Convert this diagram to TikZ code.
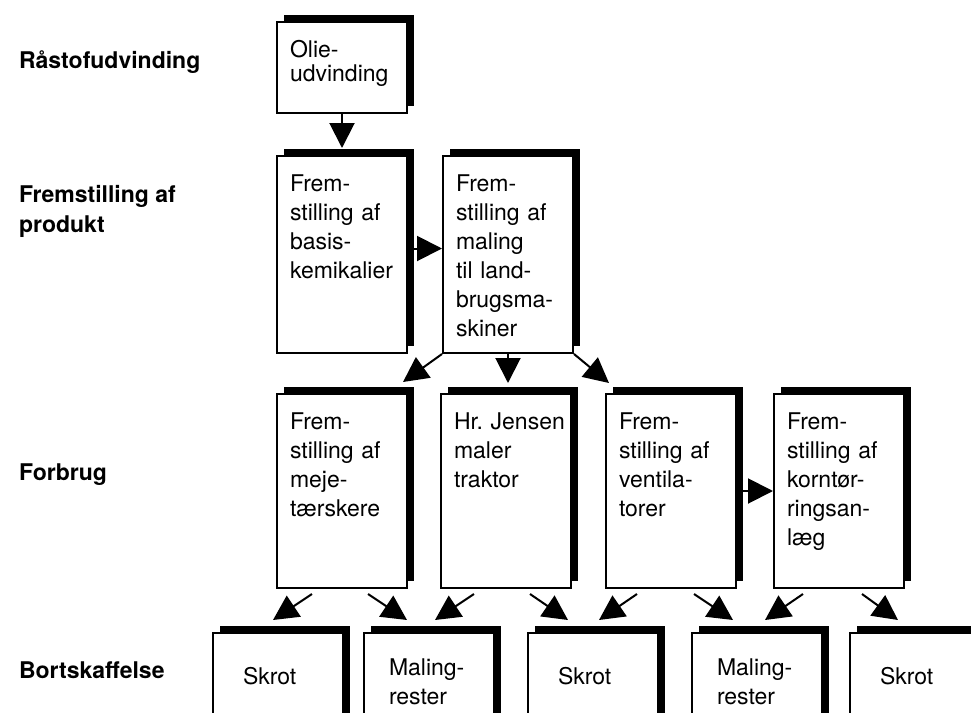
\documentclass[tikz,border=0pt]{standalone}
\usepackage{fontspec}
\setmainfont{TeX Gyre Heros}
\usetikzlibrary{arrows.meta}
\usetikzlibrary{shadows}
\hyphenpenalty=10000
\exhyphenpenalty=10000

\begin{document}
\begin{tikzpicture}[x=0.5pt, y=-0.5pt,
        boks/.style={draw, line width=1pt, fill=white, anchor=north west, align=left,
                     font=\fontsize{11.5pt}{14.5pt}\selectfont,
                     inner xsep=6.5pt, inner ysep=0pt, text width=52pt, text height=17.5pt,
                     general shadow={fill=black, shadow xshift=3.5pt, shadow yshift=3.5pt}},
        rubrik/.style={anchor=base west, align=left, font=\fontsize{11.5pt}{15pt}\selectfont\bfseries},
        pil/.style={line width=1pt, -{Triangle[length=12.5pt, width=12.5pt]}}]
                \useasboundingbox (0,0) rectangle (971,713);
                \clip (0,0) rectangle (971,713);

                \node[rubrik] (trin1) at (12,68) {Råstofudvinding};
                \node[rubrik] (trin2) at (12,232) {Fremstilling af\\produkt};
                \node[rubrik] (trin3) at (12,480) {Forbrug};
                \node[rubrik] (trin4) at (12,678) {Bortskaffelse};

                \node[boks, text depth=28pt, font=\fontsize{11.5pt}{12pt}\selectfont] (olie) at (276,21) {Olie-\\udvinding};
                \node[boks, text depth=81pt] (basis) at (276,155) {Frem-\\stilling af\\basis-\\kemikalier};
                \node[boks, text depth=81pt] (maling) at (442,155) {Frem-\\stilling af\\maling\\til land-\\brugsma-\\skiner};

                \node[boks, text depth=79.5pt] (meje) at (276,393) {Frem-\\stilling af\\meje-\\tærskere};
                \node[boks, text depth=79.5pt] (jensen) at (440,393) {Hr.~Jensen\\maler\\traktor};
                \node[boks, text depth=79.5pt] (ventila) at (605,393) {Frem-\\stilling af\\ventila-\\torer};
                \node[boks, text depth=79.5pt] (korn) at (773,393) {Frem-\\stilling af\\korntør-\\ringsan-\\læg};

                \node[boks, text height=25.5pt, text depth=40pt, inner xsep=15pt, text width=35pt] (skrot1) at (212,632) {Skrot};
                \node[boks, text height=21pt, text depth=45pt, inner xsep=12.5pt, text width=40pt] (rest1) at (363,632) {Maling-\\rester};
                \node[boks, text height=25.5pt, text depth=40pt, inner xsep=15pt, text width=35pt] (skrot2) at (527,632) {Skrot};
                \node[boks, text height=21pt, text depth=45pt, inner xsep=12.5pt, text width=40pt] (rest2) at (691,632) {Maling-\\rester};
                \node[boks, text height=25.5pt, text depth=40pt, inner xsep=15pt, text width=35pt] (skrot3) at (849,632) {Skrot};

                \draw[pil] (olie.south) -- ([yshift=3.5pt]basis.north);
                \draw[pil] ([yshift=3pt]basis.east) -- ([yshift=3pt]maling.west);
                \draw[pil] (maling.south west) -- ([shift={(-5,-11)}]meje.north east);
                \draw[pil] (maling.south) -- ([yshift=5pt]maling.south |- jensen.north);
                \draw[pil] (maling.south east) -- ([shift={(4,-10)}]ventila.north west);
                \draw[pil] (ventila.east) -- (korn.west);

                \draw[pil] ([shift={(36,5)}]meje.south west) -- ([shift={(61,-12)}]skrot1.north west);
                \draw[pil] ([shift={(92,5)}]meje.south west) -- ([shift={(44,-12)}]rest1.north west);
                \draw[pil] ([shift={(34,5)}]jensen.south west) -- ([shift={(72,-12)}]rest1.north west);
                \draw[pil] ([shift={(90,5)}]jensen.south west) -- ([shift={(41,-12)}]skrot2.north west);
                \draw[pil] ([shift={(32,5)}]ventila.south west) -- ([shift={(72,-12)}]skrot2.north west);
                \draw[pil] ([shift={(89,5)}]ventila.south west) -- ([shift={(42,-12)}]rest2.north west);
                \draw[pil] ([shift={(30,5)}]korn.south west) -- ([shift={(74,-12)}]rest2.north west);
                \draw[pil] ([shift={(89,5)}]korn.south west) -- ([shift={(49,-12)}]skrot3.north west);
\end{tikzpicture}
\end{document}
